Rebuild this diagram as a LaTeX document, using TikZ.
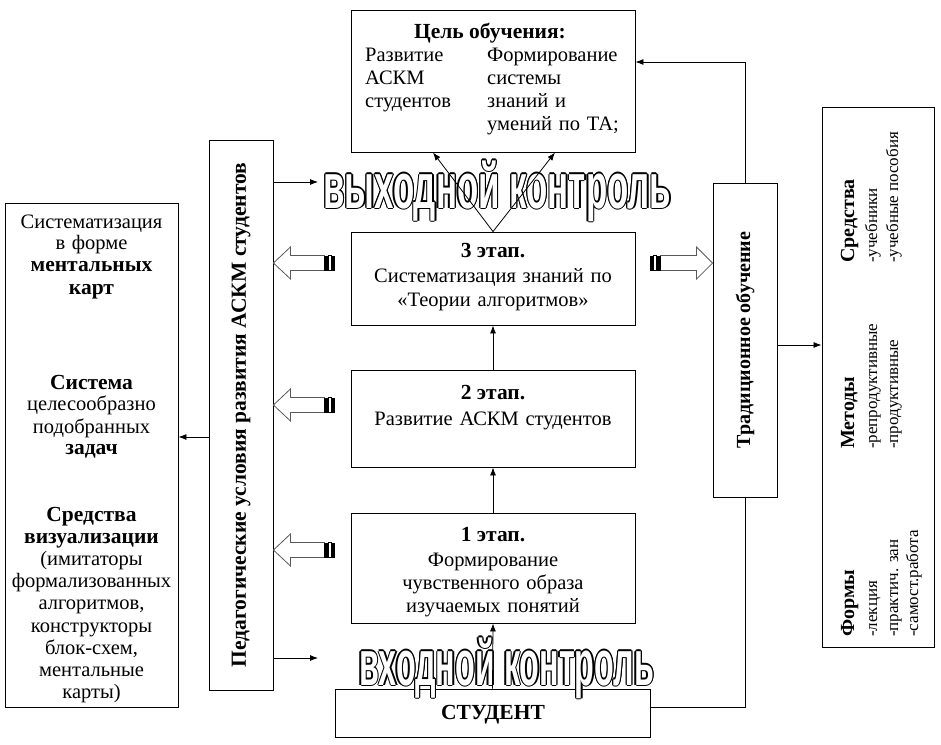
\documentclass[tikz,border=0pt]{standalone}
\usepackage{fontspec}
\setmainfont{Liberation Serif}
\newfontfamily\wordartA[FakeStretch=0.545]{Liberation Sans Bold}
\newfontfamily\wordartB[FakeStretch=0.505]{Liberation Sans Bold}
\usetikzlibrary{arrows.meta,calc}
\newcommand\ftx{\fontsize{20.5}{24}\selectfont\spaceskip=0.33em\relax}
\newcommand\fbx{\fontsize{21.5}{24}\selectfont\bfseries}
\newcommand\fsm{\fontsize{17}{19}\selectfont}
\newcommand\fhd{\fontsize{20}{22}\selectfont\bfseries}
\newcommand\wordart[4]{%
  \foreach \a in {0,45,...,315}{\node[wa,text=black] at ($(#2)+(\a:1.3)$) {#3 #4};}
  \node[wa,text=white] (#1) at (#2) {#3 #4};
}
\begin{document}
\begin{tikzpicture}[x=1pt,y=-1pt,
  box/.style={draw,line width=0.9pt,inner sep=0pt},
  arr/.style={line width=0.8pt,-{Latex[length=8pt,width=6pt]}},
  ln/.style={line width=0.8pt},
  t/.style={inner sep=0pt,font=\ftx,anchor=base},
  tb/.style={inner sep=0pt,font=\fbx,anchor=base},
  rot/.style={inner sep=0pt,rotate=90,anchor=base west},
  wa/.style={inner sep=0pt,anchor=base},
  harrow/.style={draw=black!65,line width=0.8pt,fill=white},
  hollowL/.pic={
    \draw[harrow] (0,0) -- (17,-16) -- (17,-7.5) -- (51,-7.5) -- (51,7.5) -- (17,7.5) -- (17,16) -- cycle;
    \fill (51,-7.5) rectangle (55,7.5);
    \draw[line width=0.7pt] (55,-7.5) rectangle (58,7.5);
    \fill (58,-7.5) rectangle (62,7.5);
  },
  hollowR/.pic={
    \draw[harrow] (0,0) -- (-16,-16) -- (-16,-7.5) -- (-52,-7.5) -- (-52,7.5) -- (-16,7.5) -- (-16,16) -- cycle;
    \fill (-52,-7.5) rectangle (-56,7.5);
    \draw[line width=0.7pt] (-56,-7.5) rectangle (-59,7.5);
    \fill (-59,-7.5) rectangle (-63,7.5);
  }
]
\useasboundingbox (0,0) rectangle (941,744);
\fill[white] (0,0) rectangle (941,744);

% boxes
\node[box,minimum width=284pt,minimum height=142pt] (goal) at (493,81) {};
\node[box,minimum width=284pt,minimum height=93pt] (s3) at (493,278.5) {};
\node[box,minimum width=284pt,minimum height=97pt] (s2) at (493,418.5) {};
\node[box,minimum width=284pt,minimum height=110pt] (s1) at (493,568) {};
\node[box,minimum width=315pt,minimum height=48pt] (stud) at (492.5,713) {};
\node[box,minimum width=64pt,minimum height=550pt] (ped) at (241,415) {};
\node[box,minimum width=64pt,minimum height=314pt] (trad) at (745,340) {};
\node[box,minimum width=173pt,minimum height=504pt] (lft) at (91.5,455) {};
\node[box,minimum width=112pt,minimum height=540pt] (rgt) at (878,377) {};

% goal text
\node[tb] (goalT) at (490,38) {Цель обучения:};
\foreach \s [count=\i] in {Развитие,АСКМ,студентов}
  \node[t,anchor=base west] (ga\i) at (365,{38+23*\i}) {\s};
\foreach \s [count=\i] in {Формирование,системы,знаний и,умений по ТА;}
  \node[t,anchor=base west] (gb\i) at (487,{38+23*\i}) {\s};

% stages
\node[tb] (s3a) at (493,257) {3 этап.};
\node[t] (s3b) at (493,282) {Систематизация знаний по};
\node[t] (s3c) at (493,306) {«Теории алгоритмов»};
\node[tb] (s2a) at (493,399) {2 этап.};
\node[t] (s2b) at (493,425) {Развитие АСКМ студентов};
\node[tb] (s1a) at (493,541) {1 этап.};
\node[t] (s1b) at (493,566) {Формирование};
\node[t] (s1c) at (493,589) {чувственного образа};
\node[t] (s1d) at (493,612) {изучаемых понятий};
\node[tb] (studT) at (493,719) {СТУДЕНТ};

% vertical texts
\node[inner sep=0pt,rotate=90,font=\fbx] (pedT) at (ped.center) {Педагогические условия развития АСКМ студентов};
\node[inner sep=0pt,rotate=90,font=\fontsize{20}{22}\selectfont\bfseries] (tradT) at (trad.center) {Традиционное обучение};

% left box
\node[t] (l1) at (91.5,228) {Систематизация};
\node[t] (l2) at (91.5,249) {в форме};
\node[tb] (l3) at (91.5,271) {ментальных};
\node[tb] (l4) at (91.5,294) {карт};
\node[tb] (l5) at (91.5,389) {Система};
\node[t] (l6) at (91.5,410) {целесообразно};
\node[t] (l7) at (91.5,433) {подобранных};
\node[tb] (l8) at (91.5,454) {задач};
\node[tb] (l9) at (91.5,521) {Средства};
\node[tb] (l10) at (91.5,543) {визуализации};
\node[t] (l11) at (91.5,565) {(имитаторы};
\node[t] (l12) at (91.5,587) {формализованных};
\node[t] (l13) at (91.5,609) {алгоритмов,};
\node[t] (l14) at (91.5,632) {конструкторы};
\node[t] (l15) at (91.5,654) {блок-схем,};
\node[t] (l16) at (91.5,676) {ментальные};
\node[t] (l17) at (91.5,698) {карты)};

% right box
\node[rot,font=\fhd] (r1) at (854,263) {Средства};
\node[rot,font=\fsm] (r2) at (877,263) {-учебники};
\node[rot,font=\fsm] (r3) at (898,263) {-учебные пособия};
\node[rot,font=\fhd] (r4) at (854,449) {Методы};
\node[rot,font=\fsm] (r5) at (877,449) {-репродуктивные};
\node[rot,font=\fsm] (r6) at (898,449) {-продуктивные};
\node[rot,font=\fhd] (r7) at (854,637) {Формы};
\node[rot,font=\fsm] (r8) at (877,637) {-лекция};
\node[rot,font=\fsm] (r9) at (898,637) {-практич. зан};
\node[rot,font=\fsm] (r10) at (918,637) {-самост.работа};

% outlined texts
\coordinate (outC) at (492.5,208);
\coordinate (inC) at (502,685);
\wordart{outA}{outC}{\wordartA\fontsize{64}{64}\selectfont}{выходной контроль}
\wordart{outB}{inC}{\wordartB\fontsize{64}{64}\selectfont}{входной контроль}
\coordinate (outArr) at (318,182);
\coordinate (inArr) at (318,658);

% connectors
\draw[arr] (trad.north) |- ([yshift=19pt]goal.east);
\draw[ln] (trad.south) |- ([yshift=6pt]stud.east);
\draw[arr] ([yshift=-5pt]trad.east) -- ([yshift=-5pt]trad.east -| rgt.west);
\draw[arr] ([yshift=-22pt]ped.west) -- ([yshift=-22pt]ped.west -| lft.east);
\draw[arr] (ped.east |- outArr) -- (outArr);
\draw[arr] (ped.east |- inArr) -- (inArr);
\draw[arr] (s3.north) -- ([xshift=-60pt]goal.south);
\draw[arr] (s3.north) -- ([xshift=62pt]goal.south);
\draw[arr] (s2.north) -- (s3.south);
\draw[arr] (s1.north) -- (s2.south);
\draw[arr] (stud.north) -- (s1.south);

% hollow arrows
\pic at ([yshift=152pt]ped.east) {hollowL};
\pic at ([yshift=10pt]ped.east) {hollowL};
\pic at ([yshift=-135pt]ped.east) {hollowL};
\pic at ([yshift=77pt]trad.west) {hollowR};
\end{tikzpicture}
\end{document}
